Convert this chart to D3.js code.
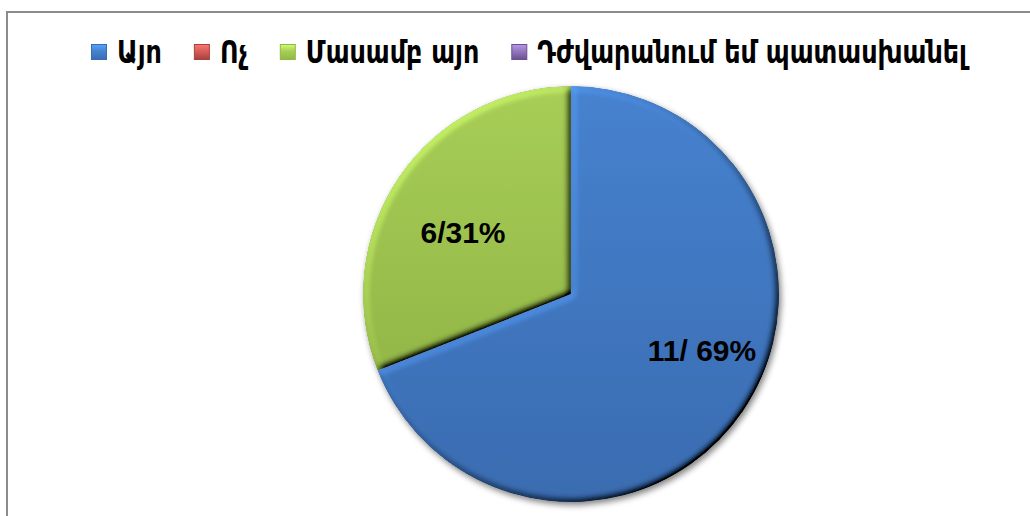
<!DOCTYPE html>
<html>
<head>
<meta charset="utf-8">
<script src="https://cdn.jsdelivr.net/npm/d3@7"></script>
<style>
html,body{margin:0;padding:0;background:#fff;}
svg{display:block;}
</style>
</head>
<body>
<svg id="chart" width="1030" height="516"></svg>
<script>
const categories = ["Այո", "Ոչ", "Մասամբ այո", "Դժվարանում եմ պատասխանել"];
const counts = [11, 0, 6, 0];
const percents = [69, 0, 31, 0];
const sliceLabels = ["11/ 69%", "", "6/31%", ""];
const colors = ["#4077C0", "#C0504D", "#9DC24F", "#8064A2"];
const lightColors = ["#4682CF", "#D65E5A", "#A8CE57", "#9478BE"];
const darkColors = ["#3A6CB0", "#A8403D", "#93B748", "#6A5090"];

const svg = d3.select("#chart");
const defs = svg.append("defs");

// frame
svg.append("path")
  .attr("d", "M7,516 V12 H1030")
  .attr("fill", "none").attr("stroke", "#8c8c8c").attr("stroke-width", 2);

// gradients
colors.forEach((c, i) => {
  const g = defs.append("linearGradient").attr("id", "grad" + i)
    .attr("x1", 0).attr("y1", 0).attr("x2", 0).attr("y2", 1);
  g.append("stop").attr("offset", "0%").attr("stop-color", lightColors[i]);
  g.append("stop").attr("offset", "100%").attr("stop-color", darkColors[i]);
  const lg = defs.append("linearGradient").attr("id", "lg" + i)
    .attr("x1", 0).attr("y1", 0).attr("x2", 0).attr("y2", 1);
  lg.append("stop").attr("offset", "0%").attr("stop-color", d3.color(lightColors[i]).brighter(0.6));
  lg.append("stop").attr("offset", "45%").attr("stop-color", lightColors[i]);
  lg.append("stop").attr("offset", "100%").attr("stop-color", darkColors[i]);
});

// shadow filter
const sh = defs.append("filter").attr("id", "shadow").attr("x", "-20%").attr("y", "-20%").attr("width", "140%").attr("height", "140%");
sh.append("feGaussianBlur").attr("in", "SourceAlpha").attr("stdDeviation", 3).attr("result", "b");
sh.append("feOffset").attr("in", "b").attr("dx", 2).attr("dy", 3).attr("result", "o");
sh.append("feComponentTransfer").attr("in", "o").attr("result", "oc")
  .append("feFuncA").attr("type", "linear").attr("slope", 0.5);
const m = sh.append("feMerge");
m.append("feMergeNode").attr("in", "oc");
m.append("feMergeNode").attr("in", "SourceGraphic");

// bevel filter (diffuse lighting multiplied with source)
const bv = defs.append("filter").attr("id", "bevel").attr("x", "-5%").attr("y", "-5%").attr("width", "110%").attr("height", "110%");
bv.append("feGaussianBlur").attr("in", "SourceAlpha").attr("stdDeviation", 3.5).attr("result", "blur");
bv.append("feDiffuseLighting").attr("in", "blur").attr("surfaceScale", 5).attr("diffuseConstant", 1)
  .attr("lighting-color", "#ffffff").attr("result", "light")
  .append("feDistantLight").attr("azimuth", 225).attr("elevation", 45);
bv.append("feComposite").attr("in", "SourceGraphic").attr("in2", "light").attr("operator", "arithmetic")
  .attr("k1", 1.414).attr("k2", 0).attr("k3", 0).attr("k4", 0).attr("result", "lit");
bv.append("feComposite").attr("in", "lit").attr("in2", "SourceAlpha").attr("operator", "in");

// pie
const cx = 571, cy = 294, R = 208;
const data = categories.map((c, i) => ({cat: c, pct: percents[i], count: counts[i], label: sliceLabels[i], i}));
const pie = d3.pie().value(d => d.pct).sort(null);
const arcs = pie(data);
const arc = d3.arc().innerRadius(0).outerRadius(R);

const g = svg.append("g").attr("transform", `translate(${cx},${cy})`);
const shadowG = g.append("g").attr("filter", "url(#shadow)");
shadowG.selectAll("path").data(arcs.filter(d => d.data.pct > 0)).join("path")
  .attr("d", arc)
  .attr("fill", d => `url(#grad${d.data.i})`)
  .attr("filter", "url(#bevel)");

// labels
const labelPos = {0: [702, 350], 2: [463, 232]};
g.selectAll("text.lbl").data(arcs.filter(d => d.data.label)).join("text")
  .attr("class", "lbl")
  .attr("x", d => labelPos[d.data.i][0] - cx)
  .attr("y", d => labelPos[d.data.i][1] - cy)
  .attr("text-anchor", "middle").attr("dominant-baseline", "central")
  .attr("font-family", "'Liberation Sans', Arial, sans-serif")
  .attr("font-weight", "bold").attr("font-size", 30)
  .attr("fill", "#000")
  .text(d => d.data.label);

// legend
const legend = svg.append("g");
const fontFam = "'DejaVu Sans Condensed', 'DejaVu Sans', sans-serif";
const targetTextTotal = 676;
const testSize = 24;
const items = legend.selectAll("g").data(data).join("g");
items.append("text")
  .attr("font-family", fontFam).attr("font-weight", "bold").attr("font-size", testSize)
  .attr("font-stretch", "condensed")
  .attr("fill", "#000").text(d => d.cat);
let total = 0;
items.select("text").each(function(){ total += this.getComputedTextLength(); });
const fs = testSize * targetTextTotal / total;
items.select("text").attr("font-size", fs);
let x = 91;
const sq = 16, gapText = 26, gapItem = 32, ySq = 44, yBase = 63;
const stretchY = 1.1;
items.each(function(d){
  const it = d3.select(this);
  it.insert("rect", "text").attr("x", x + 0.5).attr("y", ySq + 0.5).attr("width", sq - 1).attr("height", sq - 1)
    .attr("fill", `url(#lg${d.i})`)
    .attr("stroke", darkColors[d.i]).attr("stroke-width", 1);
  const t = it.select("text").attr("x", x + gapText).attr("y", 0)
    .attr("transform", `translate(0,${yBase}) scale(1,${stretchY})`);
  x += gapText + t.node().getComputedTextLength() + gapItem;
});
</script>
</body>
</html>
